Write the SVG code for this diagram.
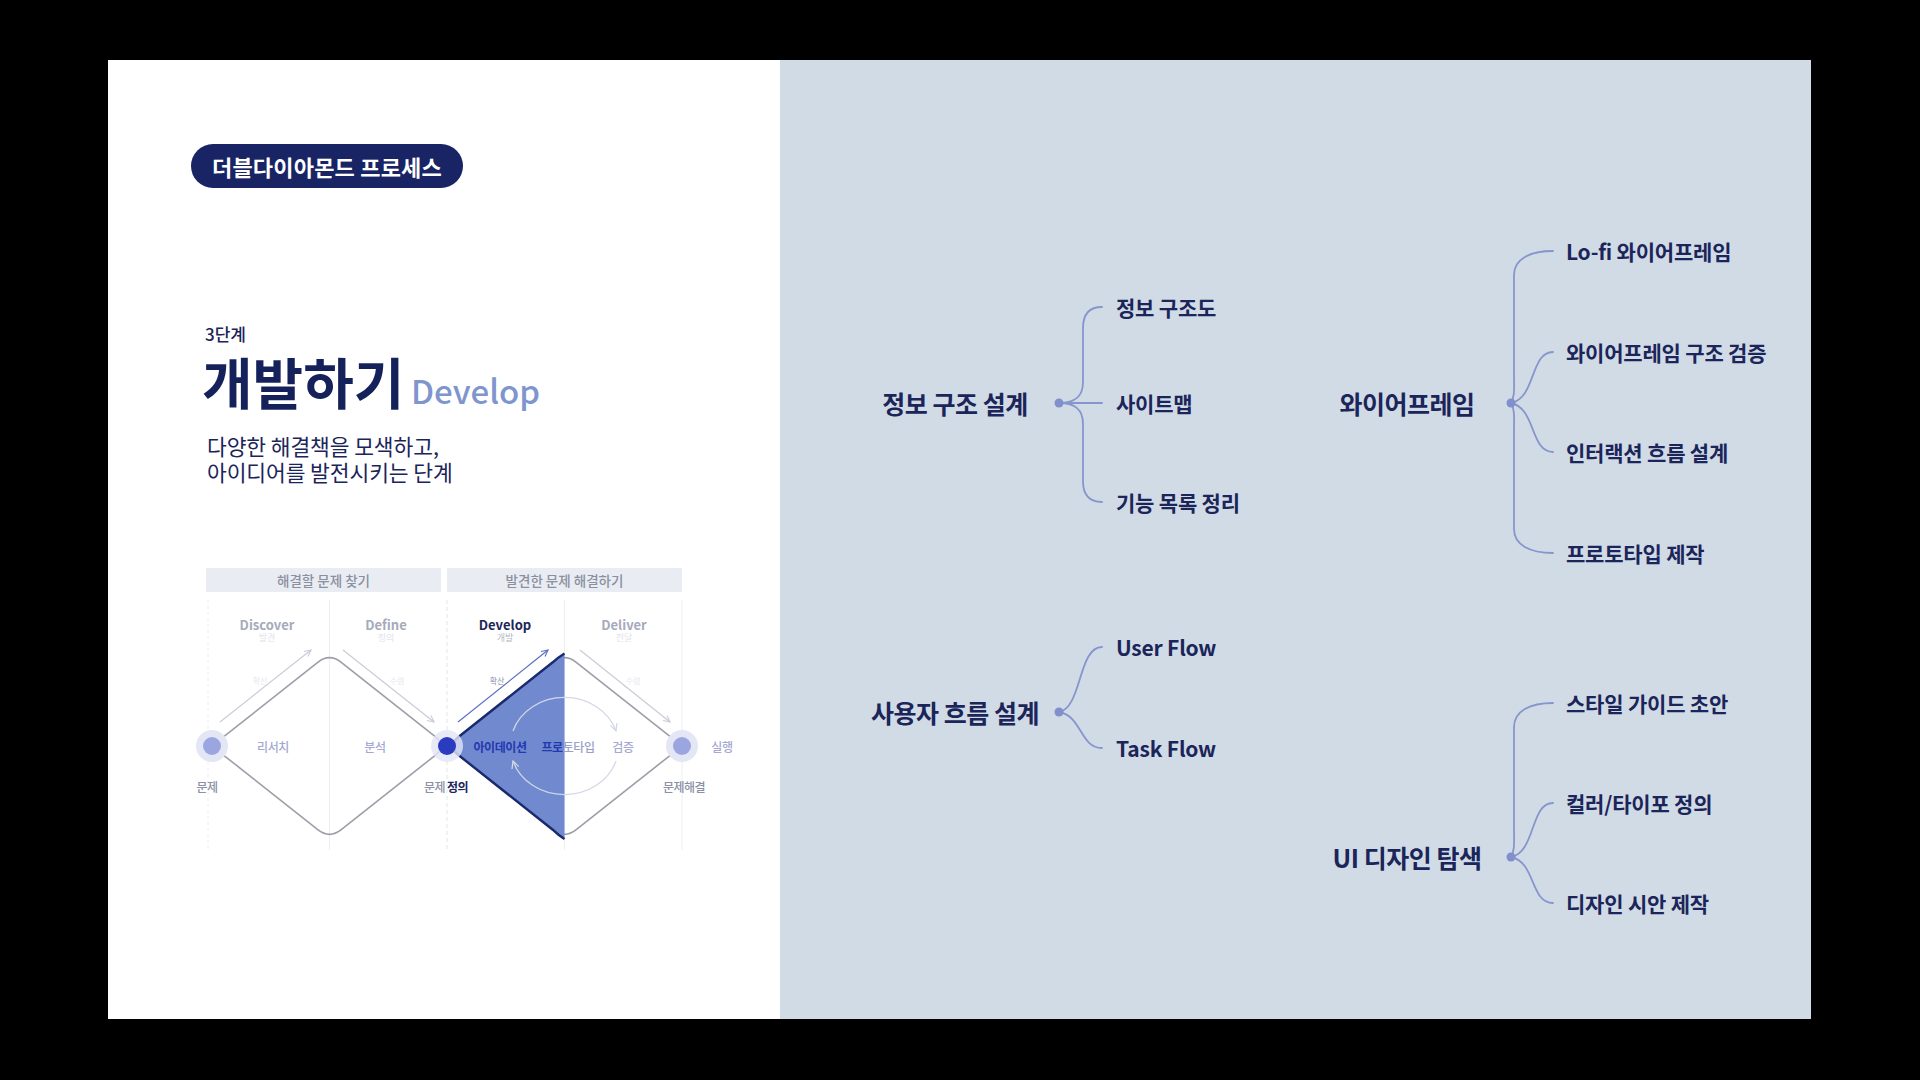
<svg xmlns="http://www.w3.org/2000/svg" width="1920" height="1080" viewBox="0 0 1920 1080">
<defs>
<style>
text{font-family:"Noto Sans CJK KR","Noto Sans",sans-serif;}
.parent{font-size:25px;font-weight:700;fill:#1b2559;letter-spacing:-0.5px;text-anchor:middle;dominant-baseline:central;}
.child{font-size:21px;font-weight:700;fill:#1b2559;letter-spacing:-0.2px;dominant-baseline:central;}
.conn{fill:none;stroke:#8795cd;stroke-width:1.8;stroke-linecap:round;}
.dot{fill:#8090cc;}
.hdr{font-size:13.5px;font-weight:500;fill:#8b90a0;text-anchor:middle;dominant-baseline:central;}
.phase{font-size:13px;font-weight:700;fill:#a6aabb;text-anchor:middle;dominant-baseline:central;}
.sub{font-size:9px;fill:#e2e4ea;text-anchor:middle;dominant-baseline:central;}
.mid{font-size:12px;font-weight:500;fill:#a3a9d2;text-anchor:middle;dominant-baseline:central;letter-spacing:-0.4px;}
.bot{font-size:12px;font-weight:500;fill:#8a90a6;text-anchor:middle;dominant-baseline:central;letter-spacing:-0.6px;}
.tiny{font-size:8px;fill:#e6e8ee;text-anchor:middle;dominant-baseline:central;}
.guide{stroke:#eceef3;stroke-width:1;fill:none;}
.dia{fill:none;stroke:#9d9ea8;stroke-width:1.6;}
.arr{fill:none;stroke:#c9ccd6;stroke-width:1.2;}
.hi{fill:#2438b0;font-weight:700;}
.navy{fill:#1b2559;font-weight:700;}
</style>
<marker id="chev" viewBox="0 0 10 10" refX="9" refY="5" markerWidth="8" markerHeight="8" markerUnits="userSpaceOnUse" orient="auto">
<path d="M1,1 L9,5 L1,9" fill="none" stroke="#c9ccd6" stroke-width="1.4"/>
</marker>
<marker id="chevB" viewBox="0 0 10 10" refX="9" refY="5" markerWidth="8" markerHeight="8" markerUnits="userSpaceOnUse" orient="auto">
<path d="M1,1 L9,5 L1,9" fill="none" stroke="#5b70c2" stroke-width="1.4"/>
</marker>
<marker id="chevL" viewBox="0 0 10 10" refX="9" refY="5" markerWidth="9" markerHeight="9" markerUnits="userSpaceOnUse" orient="auto">
<path d="M1,1 L9,5 L1,9" fill="none" stroke="#d3d8e6" stroke-width="1.4"/>
</marker>
</defs>
<rect x="0" y="0" width="1920" height="1080" fill="#000"/>
<rect x="108" y="60" width="672" height="959" fill="#ffffff"/>
<rect x="780" y="60" width="1031" height="959" fill="#d1dbe6"/>

<g id="badge">
<rect x="191" y="144" width="272" height="44" rx="22" fill="#182464"/>
<text x="327" y="166" font-size="22" font-weight="700" fill="#ffffff" text-anchor="middle" dominant-baseline="central" letter-spacing="0.2">더블다이아몬드 프로세스</text>
</g>

<g id="title">
<text x="205" y="341" font-size="17" font-weight="500" fill="#1b2559">3단계</text>
<text x="202" y="404" font-size="55" font-weight="700" fill="#14215a">개발하기</text>
<text x="411" y="404" font-size="33" font-weight="500" fill="#7f95cd">Develop</text>
<text x="207" y="455" font-size="21.5" fill="#1b2559" letter-spacing="-0.1">다양한 해결책을 모색하고,</text>
<text x="207" y="481" font-size="21.5" fill="#1b2559" letter-spacing="-0.1">아이디어를 발전시키는 단계</text>
</g>

<g id="double-diamond">
<rect x="206" y="568" width="235" height="24" fill="#e9ecf2"/>
<rect x="447" y="568" width="235" height="24" fill="#e9ecf2"/>
<text class="hdr" x="323.5" y="580">해결할 문제 찾기</text>
<text class="hdr" x="564.5" y="580">발견한 문제 해결하기</text>
<line class="guide" x1="208" y1="600" x2="208" y2="850" stroke-dasharray="3 3"/>
<line class="guide" x1="329.5" y1="600" x2="329.5" y2="850"/>
<line x1="447" y1="600" x2="447" y2="850" stroke="#e3e5ec" stroke-width="1" stroke-dasharray="4 3"/>
<line class="guide" x1="564.5" y1="600" x2="564.5" y2="850"/>
<line class="guide" x1="682" y1="600" x2="682" y2="850"/>

<text class="phase" x="267" y="624">Discover</text>
<text class="sub" x="267" y="637">발견</text>
<text class="phase" x="386" y="624">Define</text>
<text class="sub" x="386" y="637">정의</text>
<text class="phase" x="505" y="624" style="fill:#1b2559">Develop</text>
<text class="sub" x="505" y="637" style="fill:#b4b8c4">개발</text>
<text class="phase" x="624" y="624">Deliver</text>
<text class="sub" x="624" y="637">전달</text>

<line class="arr" x1="220" y1="722" x2="311" y2="650" marker-end="url(#chev)"/>
<line class="arr" x1="343" y1="650" x2="434" y2="722" marker-end="url(#chev)"/>
<line x1="458" y1="722" x2="548" y2="650" stroke="#5b70c2" stroke-width="1.2" marker-end="url(#chevB)"/>
<line class="arr" x1="580" y1="650" x2="670" y2="722" marker-end="url(#chev)"/>
<text class="tiny" x="260" y="680">확산</text>
<text class="tiny" x="397" y="680">수렴</text>
<text class="tiny" x="497" y="680" style="fill:#8c93b0">확산</text>
<text class="tiny" x="633" y="680">수렴</text>

<path class="dia" d="M223.75,736.7 L317.75,662.3 Q329.5,653 341.25,662.3 L435.25,736.7 Q447,746 435.25,755.3 L341.25,829.7 Q329.5,839 317.75,829.7 L223.75,755.3 Q212,746 223.75,736.7 Z"/>
<path class="dia" d="M458.75,736.7 L552.75,662.3 Q564.5,653 576.25,662.3 L670.25,736.7 Q682,746 670.25,755.3 L576.25,829.7 Q564.5,839 552.75,829.7 L458.75,755.3 Q447,746 458.75,736.7 Z"/>
<path d="M564.5,653.5 L564.5,839 Q558,835 552.75,829.7 L458.75,755.3 Q447,746 458.75,736.7 L552.75,662.3 Q558,657.5 564.5,653.5 Z" fill="#7089cf"/>
<path d="M564.5,839 Q558,835 552.75,829.7 L458.75,755.3 Q447,746 458.75,736.7 L552.75,662.3 Q558,657.5 564.5,653.5" fill="none" stroke="#1a2a6c" stroke-width="2.4"/>

<path d="M513,731 A54,48 0 0 1 616,731" fill="none" stroke="#d3d8e6" stroke-width="1.3" marker-end="url(#chevL)"/>
<path d="M616,761 A54,48 0 0 1 513,761" fill="none" stroke="#d3d8e6" stroke-width="1.3" marker-end="url(#chevL)"/>

<circle cx="212" cy="746" r="16" fill="#e2e6f5"/>
<circle cx="212" cy="746" r="9" fill="#9ba6e0"/>
<circle cx="447" cy="746" r="16" fill="#e2e6f5" opacity="0.8"/>
<circle cx="447" cy="746" r="9" fill="#2a3bbf"/>
<circle cx="682" cy="746" r="16" fill="#e2e6f5"/>
<circle cx="682" cy="746" r="9" fill="#9ba6e0"/>

<text class="mid" x="273" y="746">리서치</text>
<text class="mid" x="375" y="746">분석</text>
<text class="mid hi" x="500" y="746">아이데이션</text>
<text class="mid" x="568" y="746"><tspan class="hi">프로</tspan><tspan style="fill:#9aa1c9">토타입</tspan></text>
<text class="mid" x="623" y="746">검증</text>
<text class="mid" x="722" y="746">실행</text>
<text class="bot" x="207" y="786">문제</text>
<text class="bot" x="446" y="786">문제 <tspan class="navy">정의</tspan></text>
<text class="bot" x="684" y="786">문제해결</text>
</g>

<g id="connectors">
<path class="conn" d="M1059,403 C1076,403 1083,396 1083,382 L1083,328 C1083,314 1090,307 1102,307"/>
<path class="conn" d="M1059,403 L1102,403"/>
<path class="conn" d="M1059,403 C1076,403 1083,410 1083,424 L1083,481 C1083,495 1090,502 1102,502"/>

<path class="conn" d="M1059,712 C1082,708 1078,647 1102,647"/>
<path class="conn" d="M1059,712 C1082,716 1080,748 1102,748"/>

<path class="conn" d="M1511,403 C1515,396 1514,388 1514,375 L1514,275 C1514,259 1530,251 1553,251"/>
<path class="conn" d="M1511,403 C1536,398 1530,352 1553,352"/>
<path class="conn" d="M1511,403 C1536,408 1530,452 1553,452"/>
<path class="conn" d="M1511,403 C1515,410 1514,418 1514,431 L1514,529 C1514,545 1530,553 1553,553"/>

<path class="conn" d="M1511,857 C1515,850 1514,842 1514,829 L1514,727 C1514,711 1530,703 1553,703"/>
<path class="conn" d="M1511,857 C1536,852 1530,803 1553,803"/>
<path class="conn" d="M1511,857 C1536,862 1530,903 1553,903"/>
</g>

<g id="node-info-architecture">
<circle class="dot" cx="1059" cy="403" r="4.5"/>
<text class="parent" x="955" y="403">정보 구조 설계</text>
<text class="child" x="1116" y="307">정보 구조도</text>
<text class="child" x="1116" y="403">사이트맵</text>
<text class="child" x="1116" y="502">기능 목록 정리</text>
</g>

<g id="node-user-flow">
<circle class="dot" cx="1059" cy="712" r="4.5"/>
<text class="parent" x="955" y="712">사용자 흐름 설계</text>
<text class="child" x="1116" y="647">User Flow</text>
<text class="child" x="1116" y="748">Task Flow</text>
</g>

<g id="node-wireframe">
<circle class="dot" cx="1511" cy="403" r="4.5"/>
<text class="parent" x="1407" y="403">와이어프레임</text>
<text class="child" x="1566" y="251">Lo-fi 와이어프레임</text>
<text class="child" x="1566" y="352">와이어프레임 구조 검증</text>
<text class="child" x="1566" y="452">인터랙션 흐름 설계</text>
<text class="child" x="1566" y="553">프로토타입 제작</text>
</g>

<g id="node-ui-design">
<circle class="dot" cx="1511" cy="857" r="4.5"/>
<text class="parent" x="1407" y="857">UI 디자인 탐색</text>
<text class="child" x="1566" y="703">스타일 가이드 초안</text>
<text class="child" x="1566" y="803">컬러/타이포 정의</text>
<text class="child" x="1566" y="903">디자인 시안 제작</text>
</g>
</svg>
